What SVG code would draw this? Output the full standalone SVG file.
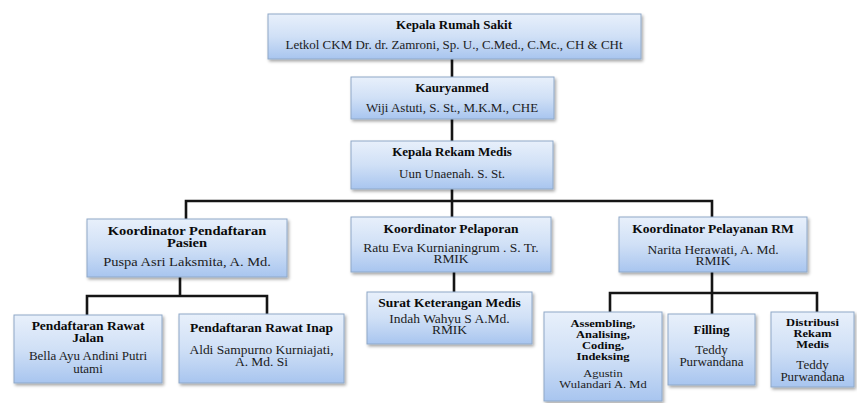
<svg xmlns="http://www.w3.org/2000/svg" width="857" height="403" viewBox="0 0 857 403">
<defs>
<linearGradient id="g" x1="0" y1="0" x2="0" y2="1">
<stop offset="0" stop-color="#e8f0fb"/>
<stop offset="0.5" stop-color="#d0e0f6"/>
<stop offset="1" stop-color="#a8c5ef"/>
</linearGradient>
<filter id="sh" x="-10%" y="-10%" width="130%" height="140%">
<feDropShadow dx="1.5" dy="2" stdDeviation="1.5" flood-color="#000" flood-opacity="0.35"/>
</filter>
</defs>
<style>
.box{fill:url(#g);stroke:#8fa8c8;stroke-width:1;filter:url(#sh)}
text{font-family:"Liberation Serif","Times New Roman",Tinos,"DejaVu Serif",serif;font-size:13px;text-anchor:middle;fill:#1c1c1c}
.t{font-weight:bold;fill:#0a0a0a}
.s14{font-size:14.5px}
.s135{font-size:13.5px}
.s125{font-size:12.5px}
.c{fill:none;stroke:#151515;stroke-width:2.6}
</style>
<rect width="857" height="403" fill="#fff"/>
<g id="connectors">
<path class="c" d="M452 59V77M452 119V141M452 189V217"/>
<path class="c" d="M186 219V201H712V217"/>
<path class="c" d="M180 277V296M87 315V296H267V314"/>
<path class="c" d="M454 272V292"/>
<path class="c" d="M712 272V314M610 312V293H817V312"/>
</g>
<g id="kepala-rs">
<rect class="box" x="268" y="14" width="373" height="45"/>
<text class="t" transform="matrix(1 0 0 .95 454 29)">Kepala Rumah Sakit</text>
<text transform="matrix(1 0 0 .95 454 49)">Letkol CKM Dr. dr. Zamroni, Sp. U., C.Med., C.Mc., CH &amp; CHt</text>
</g>
<g id="kauryanmed">
<rect class="box" x="351" y="77" width="203" height="42"/>
<text class="t" transform="matrix(1 0 0 .95 452 92)">Kauryanmed</text>
<text transform="matrix(1 0 0 .95 452 112)">Wiji Astuti, S. St., M.K.M., CHE</text>
</g>
<g id="kepala-rm">
<rect class="box" x="351" y="141" width="202" height="48"/>
<text class="t" transform="matrix(1 0 0 .95 452 156)">Kepala Rekam Medis</text>
<text transform="matrix(1 0 0 .95 452 178)">Uun Unaenah. S. St.</text>
</g>
<g id="koord-pendaftaran">
<rect class="box" x="87" y="219" width="200" height="58"/>
<text class="t s14" transform="matrix(1 0 0 .88 187 235)">Koordinator Pendaftaran</text>
<text class="t s14" transform="matrix(1 0 0 .88 187 247)">Pasien</text>
<text class="s14" transform="matrix(1 0 0 .88 187 266)">Puspa Asri Laksmita, A. Md.</text>
</g>
<g id="koord-pelaporan">
<rect class="box" x="351" y="217" width="200" height="55"/>
<text class="t s135" transform="matrix(1 0 0 .88 451 233)">Koordinator Pelaporan</text>
<text class="s135" transform="matrix(1 0 0 .88 451 252)">Ratu Eva Kurnianingrum . S. Tr.</text>
<text class="s135" transform="matrix(1 0 0 .88 451 263)">RMIK</text>
</g>
<g id="koord-pelayanan">
<rect class="box" x="619" y="217" width="188" height="55"/>
<text class="t s135" transform="matrix(1 0 0 .88 713 233)">Koordinator Pelayanan RM</text>
<text class="s135" transform="matrix(1 0 0 .88 713 254)">Narita Herawati, A. Md.</text>
<text class="s135" transform="matrix(1 0 0 .88 713 265)">RMIK</text>
</g>
<g id="rawat-jalan">
<rect class="box" x="14" y="315" width="148" height="68"/>
<text class="t s135" transform="matrix(1 0 0 .88 88 330)">Pendaftaran Rawat</text>
<text class="t s135" transform="matrix(1 0 0 .88 88 342)">Jalan</text>
<text transform="matrix(1 0 0 .88 88 360)">Bella Ayu Andini Putri</text>
<text transform="matrix(1 0 0 .88 88 373)">utami</text>
</g>
<g id="rawat-inap">
<rect class="box" x="179" y="314" width="165" height="69"/>
<text class="t s135" transform="matrix(1 0 0 .88 261.5 332)">Pendaftaran Rawat Inap</text>
<text class="s135" transform="matrix(1 0 0 .88 261.5 354)">Aldi Sampurno Kurniajati,</text>
<text class="s135" transform="matrix(1 0 0 .88 261.5 366)">A. Md. Si</text>
</g>
<g id="surat-keterangan">
<rect class="box" x="367" y="292" width="165" height="52"/>
<text class="t s135" transform="matrix(1 0 0 .88 449.5 307)">Surat Keterangan Medis</text>
<text class="s135" transform="matrix(1 0 0 .88 449.5 323)">Indah Wahyu S A.Md.</text>
<text class="s135" transform="matrix(1 0 0 .88 449.5 334)">RMIK</text>
</g>
<g id="assembling">
<rect class="box" x="544" y="312" width="118" height="89"/>
<text class="t s125" transform="matrix(1 0 0 .88 603 327)">Assembling,</text>
<text class="t s125" transform="matrix(1 0 0 .88 603 338)">Analising,</text>
<text class="t s125" transform="matrix(1 0 0 .88 603 349)">Coding,</text>
<text class="t s125" transform="matrix(1 0 0 .88 603 360)">Indeksing</text>
<text class="s125" transform="matrix(1 0 0 .88 603 377)">Agustin</text>
<text class="s125" transform="matrix(1 0 0 .88 603 388)">Wulandari A. Md</text>
</g>
<g id="filling">
<rect class="box" x="668" y="314" width="87" height="71"/>
<text class="t" transform="matrix(1 0 0 .88 711.5 334)">Filling</text>
<text transform="matrix(1 0 0 .88 711.5 354)">Teddy</text>
<text transform="matrix(1 0 0 .88 711.5 366)">Purwandana</text>
</g>
<g id="distribusi">
<rect class="box" x="771" y="312" width="83" height="75"/>
<text class="t s125" transform="matrix(1 0 0 .88 812.5 326)">Distribusi</text>
<text class="t s125" transform="matrix(1 0 0 .88 812.5 337)">Rekam</text>
<text class="t s125" transform="matrix(1 0 0 .88 812.5 348)">Medis</text>
<text transform="matrix(1 0 0 .88 812.5 369)">Teddy</text>
<text transform="matrix(1 0 0 .88 812.5 381)">Purwandana</text>
</g>
</svg>
